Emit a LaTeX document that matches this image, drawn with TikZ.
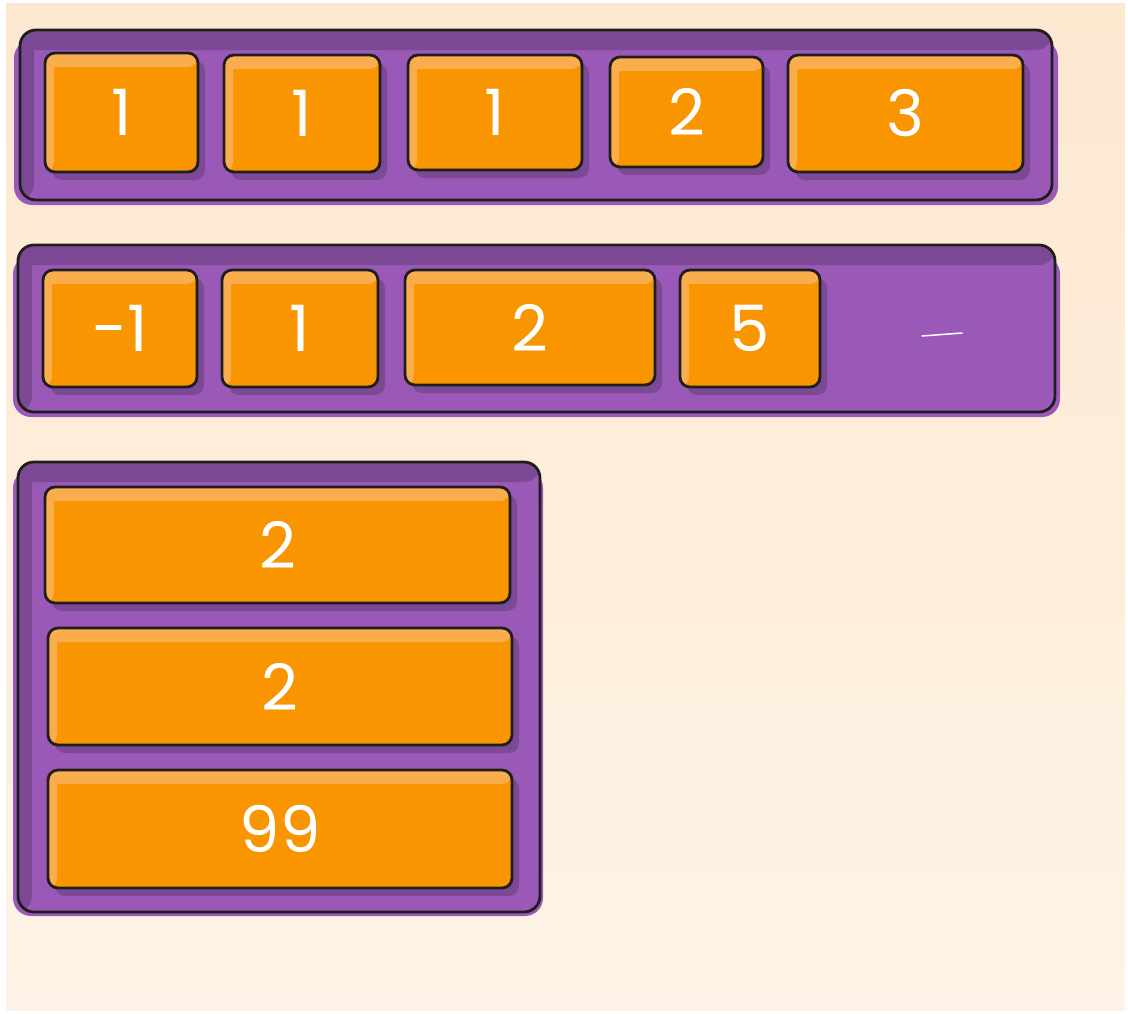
\documentclass[tikz,border=0pt]{standalone}
\usepackage{fontspec}
\setmainfont{Poppins}
\usetikzlibrary{shadows}
\definecolor{bgtop}{HTML}{FDE8D0}
\definecolor{bgbot}{HTML}{FEF3E6}
\definecolor{purp}{HTML}{9A59B7}
\definecolor{purpdark}{HTML}{7C4A94}
\definecolor{orng}{HTML}{F89500}
\definecolor{orngl}{HTML}{FAAD4C}
\definecolor{ink}{HTML}{1E1E1E}
\tikzset{
  container/.style={draw=ink, line width=2.8pt, fill=purp, rounded corners=16pt,
    inner sep=0pt, outer sep=0pt,
    path picture={
      \fill[purpdark] (path picture bounding box.north west) rectangle ([yshift=-20pt]path picture bounding box.north east);
      \fill[purpdark] (path picture bounding box.north west) rectangle ([xshift=14pt]path picture bounding box.south west);
    }},
  smudge/.style={fill=purp, rounded corners=18pt},
  item/.style={draw=ink, line width=2.8pt, fill=orng, rounded corners=10pt,
    inner sep=0pt, outer sep=0pt, text=white, font=\fontsize{64}{70}\selectfont,
    drop shadow={shadow xshift=7pt, shadow yshift=-8pt, fill=purpdark, opacity=1},
    path picture={
      \fill[orngl] (path picture bounding box.north west) rectangle ([yshift=-14pt]path picture bounding box.north east);
      \fill[orngl] (path picture bounding box.north west) rectangle ([xshift=9pt]path picture bounding box.south west);
    }},
}
\begin{document}
\begin{tikzpicture}[x=1pt,y=-1pt]
\useasboundingbox (0,0) rectangle (1128,1013);
\fill[white] (0,0) rectangle (1128,1013);
\shade[top color=bgtop, bottom color=bgbot] (6,3) rectangle (1125,1010);

% smudges
\fill[smudge] (14,40) rectangle (1058,205);
\fill[smudge] (13,256) rectangle (1060,417);
\fill[smudge] (13,470) rectangle (543,916);

% containers
\node[container, minimum width=1032pt, minimum height=170pt] (c1) at (536,115) {};
\node[container, minimum width=1037pt, minimum height=167pt] (c2) at (536.5,328.5) {};
\node[container, minimum width=522pt, minimum height=450pt] (c3) at (279,687) {};

% row 1
\node[item, minimum width=153pt, minimum height=119pt] (a1) at (121.5,112.5) {1};
\node[item, minimum width=156pt, minimum height=117pt] (a2) at (302,113.5) {1};
\node[item, minimum width=174pt, minimum height=115pt] (a3) at (495,112.5) {1};
\node[item, minimum width=153pt, minimum height=110pt] (a4) at (686.5,112) {2};
\node[item, minimum width=235pt, minimum height=117pt] (a5) at (905.5,113.5) {3};

% row 2
\node[item, minimum width=154pt, minimum height=117pt] (b1) at (120,328.5) {-1};
\node[item, minimum width=156pt, minimum height=117pt] (b2) at (300,328.5) {1};
\node[item, minimum width=250pt, minimum height=115pt] (b3) at (530,327.5) {2};
\node[item, minimum width=140pt, minimum height=117pt] (b4) at (750,328.5) {5};
\draw[white, line width=1.5pt, line cap=round] (922,336) -- (962,333);

% column
\node[item, minimum width=465pt, minimum height=116pt] (d1) at (277.5,545) {2};
\node[item, minimum width=464pt, minimum height=117pt] (d2) at (280,686.5) {2};
\node[item, minimum width=464pt, minimum height=118pt] (d3) at (280,829) {99};
\end{tikzpicture}
\end{document}
